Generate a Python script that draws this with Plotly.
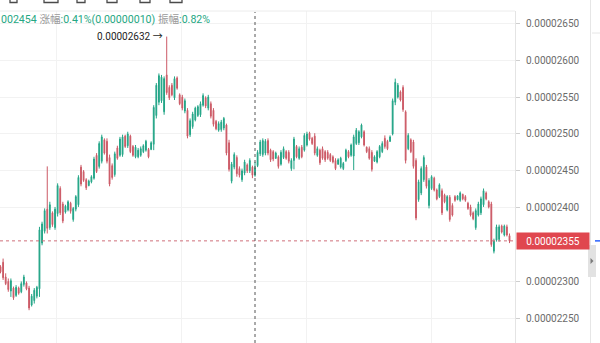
import plotly.graph_objects as go

# Prices are stored in units of 1e-8 (e.g. 2454 -> 0.00002454)
UNIT = 1e-8

opens = [2320, 2326, 2306, 2300, 2287, 2291, 2281, 2291, 2286, 2296,
         2298, 2291, 2268, 2274, 2280, 2290, 2352, 2368, 2398, 2373,
         2393, 2373, 2392, 2426, 2405, 2394, 2397, 2406, 2384, 2398,
         2404, 2455, 2449, 2438, 2430, 2435, 2440, 2471, 2456, 2463,
         2492, 2490, 2468, 2457, 2445, 2481, 2471, 2472, 2497, 2484,
         2497, 2483, 2469, 2469, 2471, 2476, 2478, 2479, 2479, 2486,
         2525, 2543, 2545, 2530, 2580, 2563, 2566, 2549, 2576, 2553,
         2550, 2531, 2532, 2499, 2510, 2519, 2525, 2526, 2539, 2549,
         2535, 2541, 2532, 2517, 2505, 2506, 2508, 2512, 2488, 2436,
         2455, 2468, 2453, 2438, 2447, 2458, 2450, 2455, 2444, 2457,
         2473, 2472, 2474, 2491, 2478, 2476, 2467, 2469, 2459, 2468,
         2476, 2475, 2453, 2464, 2483, 2467, 2482, 2478, 2485, 2501,
         2494, 2497, 2471, 2478, 2480, 2476, 2475, 2472, 2469, 2464,
         2459, 2455, 2453, 2464, 2476, 2471, 2470, 2487, 2488, 2496,
         2503, 2482, 2480, 2475, 2463, 2462, 2469, 2476, 2494, 2490,
         2490, 2500, 2543, 2550, 2557, 2563, 2530, 2480, 2492, 2489,
         2464, 2411, 2420, 2438, 2455, 2403, 2426, 2440, 2424, 2415,
         2423, 2417, 2397, 2414, 2403, 2415, 2411, 2410, 2418, 2415,
         2406, 2401, 2393, 2373, 2390, 2393, 2404, 2420, 2408, 2405,
         2341, 2356, 2357, 2375, 2363, 2374, 2362]

highs = [2322, 2331, 2311, 2304, 2304, 2293, 2295, 2293, 2300, 2309,
         2300, 2294, 2283, 2291, 2294, 2374, 2381, 2399, 2456, 2408,
         2395, 2401, 2433, 2429, 2408, 2404, 2410, 2408, 2401, 2417,
         2444, 2458, 2451, 2440, 2438, 2444, 2469, 2474, 2490, 2499,
         2494, 2494, 2472, 2460, 2476, 2484, 2496, 2499, 2499, 2503,
         2499, 2485, 2485, 2481, 2483, 2486, 2492, 2481, 2490, 2539,
         2569, 2582, 2580, 2578, 2632, 2566, 2569, 2578, 2578, 2555,
         2553, 2548, 2535, 2521, 2530, 2537, 2539, 2544, 2555, 2551,
         2553, 2544, 2535, 2519, 2517, 2519, 2523, 2514, 2492, 2462,
         2475, 2471, 2456, 2453, 2465, 2460, 2467, 2457, 2462, 2478,
         2492, 2494, 2493, 2494, 2480, 2478, 2476, 2471, 2478, 2483,
         2478, 2478, 2467, 2496, 2485, 2483, 2485, 2501, 2503, 2503,
         2496, 2501, 2483, 2480, 2483, 2478, 2478, 2474, 2471, 2467,
         2467, 2469, 2462, 2480, 2478, 2487, 2499, 2508, 2505, 2514,
         2505, 2483, 2483, 2478, 2471, 2478, 2485, 2490, 2498, 2492,
         2498, 2548, 2575, 2569, 2559, 2566, 2532, 2501, 2494, 2492,
         2467, 2438, 2456, 2471, 2458, 2440, 2444, 2442, 2426, 2433,
         2426, 2419, 2417, 2417, 2406, 2417, 2417, 2422, 2419, 2417,
         2408, 2404, 2395, 2399, 2408, 2415, 2426, 2422, 2410, 2408,
         2358, 2377, 2377, 2377, 2377, 2377, 2365]

lows = [2311, 2302, 2295, 2286, 2279, 2275, 2279, 2282, 2284, 2293,
        2288, 2261, 2266, 2270, 2277, 2279, 2349, 2365, 2365, 2370,
        2374, 2370, 2388, 2390, 2379, 2392, 2395, 2392, 2381, 2395,
        2401, 2429, 2435, 2424, 2429, 2433, 2438, 2447, 2453, 2460,
        2472, 2460, 2429, 2438, 2442, 2465, 2469, 2469, 2481, 2481,
        2474, 2469, 2467, 2467, 2469, 2474, 2476, 2467, 2478, 2478,
        2521, 2539, 2542, 2526, 2553, 2546, 2551, 2546, 2560, 2539,
        2532, 2528, 2494, 2496, 2507, 2517, 2523, 2523, 2537, 2535,
        2532, 2521, 2510, 2505, 2503, 2503, 2505, 2471, 2449, 2433,
        2452, 2442, 2441, 2435, 2444, 2447, 2447, 2440, 2442, 2455,
        2470, 2469, 2471, 2471, 2462, 2463, 2466, 2453, 2457, 2466,
        2465, 2460, 2450, 2452, 2467, 2465, 2467, 2476, 2483, 2491,
        2485, 2471, 2469, 2458, 2465, 2462, 2465, 2462, 2460, 2451,
        2458, 2453, 2451, 2462, 2467, 2469, 2451, 2485, 2485, 2494,
        2483, 2474, 2465, 2449, 2462, 2460, 2467, 2474, 2480, 2478,
        2489, 2498, 2539, 2548, 2544, 2530, 2460, 2478, 2474, 2453,
        2383, 2408, 2417, 2435, 2426, 2399, 2424, 2422, 2410, 2413,
        2390, 2406, 2395, 2381, 2388, 2408, 2410, 2408, 2410, 2408,
        2397, 2388, 2383, 2370, 2388, 2390, 2401, 2410, 2399, 2347,
        2338, 2354, 2354, 2365, 2361, 2361, 2352]

closes = [2313, 2305, 2297, 2289, 2301, 2278, 2292, 2284, 2297, 2306,
          2290, 2264, 2280, 2288, 2292, 2370, 2378, 2396, 2372, 2404,
          2377, 2398, 2430, 2393, 2382, 2402, 2408, 2395, 2399, 2415,
          2441, 2432, 2437, 2427, 2436, 2442, 2466, 2449, 2487, 2496,
          2474, 2463, 2432, 2441, 2473, 2467, 2493, 2496, 2483, 2500,
          2476, 2471, 2482, 2478, 2480, 2484, 2490, 2469, 2488, 2536,
          2566, 2579, 2577, 2575, 2556, 2549, 2553, 2575, 2562, 2541,
          2535, 2545, 2497, 2518, 2527, 2535, 2537, 2541, 2552, 2538,
          2550, 2524, 2513, 2507, 2514, 2516, 2521, 2474, 2452, 2459,
          2472, 2446, 2444, 2450, 2462, 2450, 2464, 2444, 2454, 2475,
          2489, 2491, 2490, 2474, 2465, 2466, 2474, 2456, 2475, 2480,
          2467, 2463, 2464, 2493, 2469, 2480, 2469, 2498, 2500, 2493,
          2487, 2474, 2480, 2461, 2467, 2465, 2467, 2464, 2462, 2453,
          2465, 2467, 2460, 2478, 2469, 2485, 2496, 2505, 2503, 2512,
          2485, 2476, 2467, 2452, 2469, 2476, 2483, 2487, 2483, 2480,
          2496, 2545, 2570, 2566, 2546, 2533, 2464, 2498, 2476, 2456,
          2386, 2435, 2453, 2468, 2429, 2437, 2442, 2424, 2412, 2431,
          2393, 2408, 2415, 2384, 2390, 2410, 2416, 2420, 2412, 2410,
          2399, 2390, 2385, 2396, 2405, 2412, 2423, 2412, 2401, 2350,
          2355, 2374, 2374, 2367, 2375, 2363, 2355]

price_ticks = [2250, 2300, 2400, 2450, 2500, 2550, 2600, 2650]
last_price = closes[-1]
peak_price = max(highs)
hover_index = 98          # candle under the crosshair
hover_change = 10         # close minus previous close
hover_change_pct = "0.41%"
hover_amplitude_pct = "0.82%"

GREEN = "#23a587"
RED = "#cc5a66"
W, H = 600, 343
AXIS_PX = 515            # left edge of the price scale
TOP_PX = 11              # top edge of the chart pane


def px_x(p):
    return p / W


def px_y(p):
    return 1 - p / H


x = list(range(len(opens)))
step = 2.597             # pixels per candle
x_lo = -0.5 / step
x_hi = x_lo + AXIS_PX / step
y_top = 2650 + (23.3 - TOP_PX) * 1.3559
y_bot = 2650 + (23.3 - H) * 1.3559
time_grid = [(p - 0.5) / step for p in (56.7, 181.7, 306.7, 431.7)]

fig = go.Figure()
fig.add_trace(go.Candlestick(
    x=x,
    open=[v * UNIT for v in opens],
    high=[v * UNIT for v in highs],
    low=[v * UNIT for v in lows],
    close=[v * UNIT for v in closes],
    increasing=dict(line=dict(color=GREEN, width=1), fillcolor=GREEN),
    decreasing=dict(line=dict(color=RED, width=1), fillcolor=RED),
    whiskerwidth=0,
    hoverinfo="skip",
))

font_main = "Roboto, 'Noto Sans CJK SC', Arial, sans-serif"

fig.update_layout(
    width=W, height=H,
    margin=dict(l=0, r=0, t=0, b=0),
    paper_bgcolor="white", plot_bgcolor="white",
    showlegend=False,
    boxgap=0.55,
    font=dict(family=font_main, size=10, color="#666"),
    xaxis=dict(
        domain=[0, px_x(AXIS_PX)],
        range=[x_lo, x_hi],
        rangeslider=dict(visible=False),
        tickvals=time_grid,
        showticklabels=False,
        ticks="",
        showgrid=True, gridcolor="#f2f2f2", gridwidth=1,
        zeroline=False, showline=False,
    ),
    yaxis=dict(
        domain=[0, px_y(TOP_PX)],
        side="right",
        range=[y_bot * UNIT, y_top * UNIT],
        tickvals=[v * UNIT for v in price_ticks],
        tickformat=".8f",
        ticks="outside", ticklen=4, tickcolor="#cfcfcf",
        ticklabelstandoff=4,
        tickfont=dict(size=10, color="#6b6b6b", family=font_main),
        showgrid=True, gridcolor="#f2f2f2", gridwidth=1,
        showline=True, linecolor="#e4e4e4", linewidth=1,
        zeroline=False,
    ),
)

shapes = []
# pane top border
shapes.append(dict(type="line", xref="paper", yref="paper",
                   x0=0, x1=px_x(AXIS_PX), y0=px_y(TOP_PX), y1=px_y(TOP_PX),
                   line=dict(color="#ececec", width=1)))
# last price dashed line
shapes.append(dict(type="line", xref="paper", yref="y",
                   x0=0, x1=px_x(AXIS_PX), y0=last_price * UNIT, y1=last_price * UNIT,
                   line=dict(color="#cf6f7a", width=1, dash="3px,3px")))
# crosshair
shapes.append(dict(type="line", xref="x", yref="paper",
                   x0=hover_index, x1=hover_index, y0=0, y1=px_y(TOP_PX + 1),
                   line=dict(color="#555555", width=1, dash="3px,3px")))
# right edge panel
shapes.append(dict(type="line", xref="paper", yref="paper",
                   x0=px_x(590.5), x1=px_x(590.5), y0=0, y1=1,
                   line=dict(color="#e6e6e6", width=1)))
shapes.append(dict(type="line", xref="paper", yref="paper",
                   x0=px_x(592), x1=1, y0=px_y(33), y1=px_y(33),
                   line=dict(color="#e6e6e6", width=1)))
shapes.append(dict(type="line", xref="paper", yref="y",
                   x0=px_x(595), x1=1, y0=last_price * UNIT, y1=last_price * UNIT,
                   line=dict(color="#2962ff", width=1.5)))
shapes.append(dict(type="rect", xref="paper", yref="paper",
                   x0=px_x(588), x1=px_x(596), y0=px_y(277), y1=px_y(245),
                   fillcolor="#e2e2e2", line=dict(width=0)))
shapes.append(dict(type="path", xref="paper", yref="paper",
                   path=f"M {px_x(590.5)} {px_y(258)} L {px_x(593.5)} {px_y(261)} "
                        f"L {px_x(590.5)} {px_y(264)} Z",
                   fillcolor="#7a7a7a", line=dict(width=0)))
# toolbar icons cut off at the top edge
for a, b in [(10, 17), (44, 58), (77, 85), (107, 117), (140, 150), (170, 182)]:
    shapes.append(dict(type="rect", xref="paper", yref="paper",
                       x0=px_x(a), x1=px_x(b), y0=px_y(2.5), y1=px_y(-8),
                       line=dict(color="#4a4a4a", width=1.3)))
fig.update_layout(shapes=shapes)

g = "#25a783"
gr = "#9a9a9a"
info = (f"<span style='color:{g}'>00{closes[hover_index]}</span> "
        f"<span style='color:{gr}'>涨幅</span><span style='color:{g}'>:{hover_change_pct}"
        f"(0.{hover_change:08d})</span> "
        f"<span style='color:{gr}'>振幅</span><span style='color:{g}'>:{hover_amplitude_pct}</span>")

annotations = [
    dict(xref="paper", yref="paper", x=px_x(-1), y=px_y(19.5),
         xanchor="left", yanchor="middle", showarrow=False,
         text=info, font=dict(size=10.6, family=font_main)),
    dict(xref="x", yref="y", x=highs.index(peak_price), y=peak_price * UNIT,
         xanchor="right", yanchor="middle", xshift=-2, showarrow=False,
         text=f"{peak_price * UNIT:.8f} →",
         font=dict(size=10, color="#1e1e1e", family=font_main)),
    dict(xref="paper", yref="y", x=px_x(AXIS_PX + 1), y=last_price * UNIT,
         xanchor="left", yanchor="middle", showarrow=False,
         text=f"{last_price * UNIT:.8f}", width=72, height=16, borderpad=0,
         bgcolor="#e0474f", align="center",
         font=dict(size=10, color="white", family=font_main)),
]
fig.update_layout(annotations=annotations)

fig.write_html("out.html")
